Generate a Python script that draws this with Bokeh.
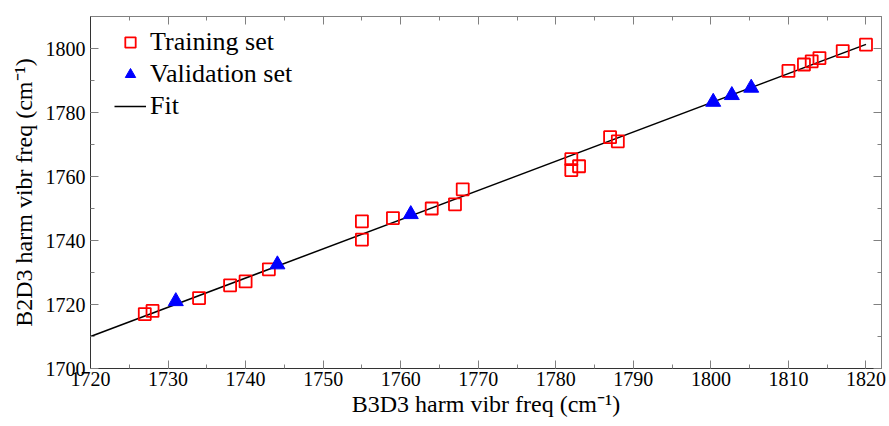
from bokeh.plotting import figure
from bokeh.models import Range1d, LinearAxis, Legend, LegendItem, SingleIntervalTicker
from bokeh.embed import file_html
from bokeh.resources import INLINE

train_x = [1727, 1728, 1734, 1738, 1740, 1743, 1755, 1755, 1759, 1764, 1767, 1768,
           1782, 1782, 1783, 1787, 1788, 1810, 1812, 1813, 1814, 1817, 1820]
train_y = [1717, 1718, 1722, 1726, 1727.2, 1731, 1746, 1740.3, 1747, 1750, 1751.3, 1756,
           1765.4, 1762, 1763.2, 1772.3, 1771, 1793, 1795, 1796, 1797, 1799.2, 1801.2]
val_x = [1731, 1744.1, 1761.3, 1800.3, 1802.7, 1805.2]
val_y = [1721, 1732.5, 1748.2, 1783.3, 1785.4, 1787.7]
fit_x = [1720, 1820]
fit_y = [1710.0, 1801.3]

FONT = "Liberation Serif"
DARK = "#333333"
GRAY = "#808080"

p = figure(width=889, height=426, output_backend="svg", toolbar_location=None,
           x_range=Range1d(1720, 1822), y_range=Range1d(1700, 1810),
           min_border_left=90, min_border_right=8, min_border_top=16, min_border_bottom=58)
p.grid.visible = False
p.outline_line_color = GRAY
p.background_fill_color = "white"
p.border_fill_color = "white"

r_fit = p.line(fit_x, fit_y, line_color="black", line_width=1.5)
r_train = p.scatter(train_x, train_y, marker="square", size=12, fill_color=None,
                    line_color="#ff0000", line_width=1.8)
r_val = p.scatter(val_x, val_y, marker="triangle", size=15, fill_color="#0000ff",
                  line_color="#0000ff")

p.xaxis.ticker = SingleIntervalTicker(interval=10, num_minor_ticks=2)
p.yaxis.ticker = SingleIntervalTicker(interval=20, num_minor_ticks=2)

def style(ax, labels=True):
    ax.axis_line_color = DARK if labels else GRAY
    ax.major_tick_line_color = GRAY
    ax.minor_tick_line_color = GRAY
    ax.major_tick_in = 8
    ax.major_tick_out = 0
    ax.minor_tick_in = 4
    ax.minor_tick_out = 0
    ax.major_label_text_font = FONT
    ax.major_label_text_font_size = "20px"
    ax.major_label_text_color = "black"
    ax.axis_label_text_font = FONT
    ax.axis_label_text_font_size = "24px"
    ax.axis_label_text_font_style = "normal"
    ax.axis_label_text_color = "black"
    if not labels:
        ax.major_label_text_color = None
        ax.major_label_text_font_size = "1px"
        ax.major_label_standoff = 0

style(p.xaxis[0])
style(p.yaxis[0])
p.xaxis.axis_label = "B3D3 harm vibr freq (cm\u207b\u00b9)"
p.yaxis.axis_label = "B2D3 harm vibr freq (cm\u207b\u00b9)"
p.xaxis.major_label_standoff = 3
p.yaxis.major_label_standoff = 5
p.xaxis.axis_label_standoff = 2
p.yaxis.axis_label_standoff = 6

top = LinearAxis(ticker=SingleIntervalTicker(interval=10, num_minor_ticks=2))
right = LinearAxis(ticker=SingleIntervalTicker(interval=20, num_minor_ticks=2))
style(top, labels=False)
style(right, labels=False)
p.add_layout(top, "above")
p.add_layout(right, "right")

legend = Legend(items=[LegendItem(label="Training set", renderers=[r_train]),
                       LegendItem(label="Validation set", renderers=[r_val]),
                       LegendItem(label="Fit", renderers=[r_fit])],
                location=(24, 247))
legend.label_text_font = FONT
legend.label_text_font_size = "26px"
legend.label_text_color = "black"
legend.glyph_width = 32
legend.glyph_height = 26
legend.label_height = 26
legend.label_standoff = 4
legend.spacing = 2
legend.padding = 0
legend.margin = 0
legend.border_line_color = None
legend.background_fill_alpha = 0
p.add_layout(legend, "center")

open("out.html", "w").write(file_html(p, INLINE))
